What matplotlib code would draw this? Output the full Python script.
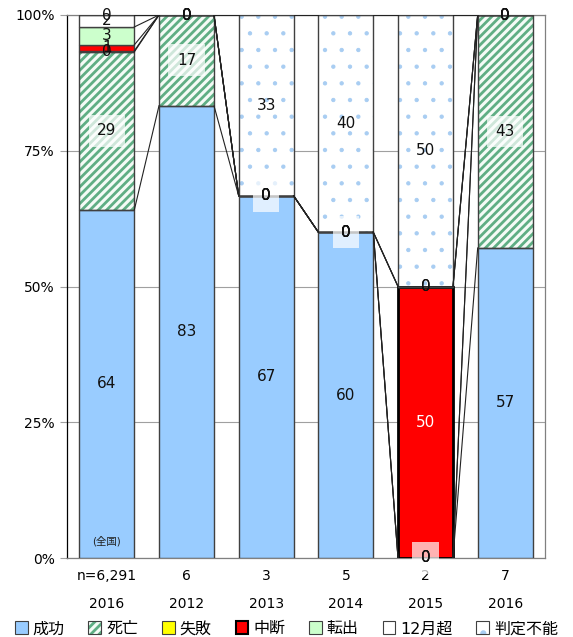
import matplotlib
matplotlib.use("Agg")
import matplotlib.pyplot as plt
import numpy as np
from matplotlib.patches import Patch
from matplotlib.legend_handler import HandlerTuple

plt.rcParams['font.family'] = ['DejaVu Sans', 'Noto Sans CJK JP']
plt.rcParams['hatch.linewidth'] = 2.0

categories_n = ["n=6,291", "6", "3", "5", "2", "7"]
categories_year = ["2016", "2012", "2013", "2014", "2015", "2016"]
series_names = ["成功", "死亡", "失敗", "中断", "転出", "12月超", "判定不能"]

seikou    = [64.1, 83.3, 66.7, 60.0, 0.0, 57.1]
shibou    = [29.1, 16.7, 0.0, 0.0, 0.0, 42.9]
shippai   = [0.2, 0.0, 0.0, 0.0, 0.0, 0.0]
chudan    = [1.1, 0.0, 0.0, 0.0, 50.0, 0.0]
tenshutsu = [3.3, 0.0, 0.0, 0.0, 0.0, 0.0]
over12    = [2.2, 0.0, 0.0, 0.0, 0.0, 0.0]
hantei    = [0.0, 0.0, 33.3, 40.0, 50.0, 0.0]

series_vals = [seikou, shibou, shippai, chudan, tenshutsu, over12, hantei]

face = ["#99ccff", "#f4fbf6", "#ffff00", "#ff0000", "#ccffcc", "#ffffff", "#ffffff"]
hatches = [None, "////", None, None, None, None, "."]
hatch_col = [None, "#5fae84", None, None, None, None, "#a8cdf2"]
hatch_lw = [None, 2.0, None, None, None, None, 0.7]


def set_hlw(patches, lw):
    for p in patches:
        try:
            p.set_hatch_linewidth(lw)
        except Exception:
            p._hatch_linewidth = lw


fig = plt.figure(figsize=(5.73, 6.37), dpi=100)
ax = fig.add_axes([67/573, 1-558/637, (545-67)/573, (558-15)/637])

x = np.arange(len(categories_n))
width = 0.69
bottom = np.zeros(len(x))
tops = []
for i, vals in enumerate(series_vals):
    v = np.array(vals)
    if hatches[i]:
        bars = ax.bar(x, v, width, bottom=bottom, color=face[i], edgecolor=hatch_col[i],
                      hatch=hatches[i], linewidth=0, zorder=2)
        set_hlw(bars, hatch_lw[i])
        ax.bar(x, v, width, bottom=bottom, fill=False, edgecolor="#404040",
               linewidth=1.0, zorder=3)
    else:
        lw = [2.0 if (i == 3 and j == 4) else 1.0 for j in range(len(v))]
        ec = ["#000000" if (i == 3 and j == 4) else "#404040" for j in range(len(v))]
        ax.bar(x, v, width, bottom=bottom, color=face[i], edgecolor=ec,
               linewidth=lw, zorder=3)
    centers = bottom + v / 2
    for j in range(len(x)):
        txtcol = "white" if (i == 3 and v[j] >= 10) else "#111111"
        if i == 1:
            ax.text(x[j], centers[j], f"{v[j]:.0f}", ha="center", va="center",
                    fontsize=11, color=txtcol, zorder=6,
                    bbox=dict(boxstyle="square,pad=0.55", fc="white", ec="none", alpha=0.7))
        else:
            ax.text(x[j], centers[j], f"{v[j]:.0f}", ha="center", va="center",
                    fontsize=11, color=txtcol, zorder=7)
    bottom = bottom + v
    tops.append(bottom.copy())

# series lines
for t in tops:
    for j in range(len(x) - 1):
        ax.plot([x[j] + width/2, x[j+1] - width/2], [t[j], t[j+1]],
                color="#222222", lw=0.8, zorder=4)

ax.text(x[0], 3, "(全国)", ha="center", va="center", fontsize=7.5, color="#222222", zorder=7)

ax.set_xlim(-0.5, len(x) - 0.5)
ax.set_ylim(0, 100)
ax.set_yticks([0, 25, 50, 75, 100])
ax.set_yticklabels(["0%", "25%", "50%", "75%", "100%"], fontsize=10)
ax.yaxis.grid(True, color="#a0a0a0", lw=0.8, zorder=0)
ax.tick_params(axis="y", length=5, color="#a0a0a0", pad=4)
ax.set_xticks(x)
ax.set_xticklabels([f"{a}\n{b}" for a, b in zip(categories_n, categories_year)],
                   fontsize=10, linespacing=2.25)
ax.tick_params(axis="x", length=0, pad=8)
for s in ["top", "right", "bottom"]:
    ax.spines[s].set_color("#808080")
    ax.spines[s].set_linewidth(0.9)
ax.spines["left"].set_color("#000000")
ax.spines["left"].set_linewidth(0.9)
ax.set_axisbelow(True)

handles = []
for i in range(len(series_names)):
    if hatches[i]:
        hp = Patch(facecolor=face[i], edgecolor=hatch_col[i], hatch=hatches[i], lw=0)
        set_hlw([hp], hatch_lw[i] if i != 6 else 1.5)
        op = Patch(facecolor="none", edgecolor="#404040", lw=0.8)
        handles.append((hp, op))
    else:
        handles.append(Patch(facecolor=face[i], edgecolor="#404040" if i != 3 else "#000000",
                             lw=0.8 if i != 3 else 1.5))
fig.legend(handles, series_names, loc="lower center", bbox_to_anchor=(0.5, -0.014), ncol=7,
           frameon=False, fontsize=11.5, handlelength=0.8, handleheight=0.9,
           handletextpad=0.3, columnspacing=1.5, borderaxespad=0.2,
           handler_map={tuple: HandlerTuple(ndivide=1, pad=0)})

fig.savefig("out.png", dpi=100)
